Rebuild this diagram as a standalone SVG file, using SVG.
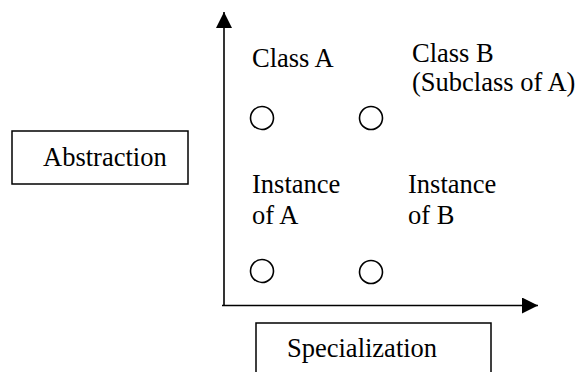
<svg xmlns="http://www.w3.org/2000/svg" width="581" height="372" viewBox="0 0 581 372">
  <style>
    text { font-family: "Liberation Serif", "Times New Roman", serif; font-size: 26.5px; fill: #000; }
    .box { fill: #fff; stroke: #000; stroke-width: 1.5; }
    .axis { fill: none; stroke: #000; stroke-width: 1.6; }
    .dot { fill: #fff; stroke: #000; stroke-width: 1.6; }
  </style>
  <defs>
    <marker id="arrow" viewBox="0 0 16 16" refX="16" refY="8" markerWidth="16" markerHeight="16" markerUnits="userSpaceOnUse" orient="auto">
      <path d="M0,0 L16,8 L0,16 Z" fill="#000"/>
    </marker>
  </defs>
  <rect width="581" height="372" fill="#fff"/>

  <!-- axes -->
  <g id="connectors">
    <path class="axis" d="M224,306 L224,12" marker-end="url(#arrow)"/>
    <path class="axis" d="M222,305.5 L538,305.5" marker-end="url(#arrow)"/>
  </g>

  <!-- axis labels -->
  <g id="abstraction">
    <rect class="box" x="12" y="131" width="176" height="53"/>
    <text x="43" y="166">Abstraction</text>
  </g>
  <g id="specialization">
    <rect class="box" x="256" y="323" width="235" height="60"/>
    <text x="287" y="357">Specialization</text>
  </g>

  <!-- quadrant entries -->
  <g id="class-a">
    <text x="252" y="67">Class A</text>
    <circle class="dot" cx="262" cy="118" r="11.5"/>
  </g>
  <g id="class-b">
    <text x="412" y="62">Class B</text>
    <text x="412" y="91">(Subclass of A)</text>
    <circle class="dot" cx="371" cy="118" r="11.5"/>
  </g>
  <g id="instance-a">
    <text x="252" y="193">Instance</text>
    <text x="252" y="224">of A</text>
    <circle class="dot" cx="262" cy="271" r="11.5"/>
  </g>
  <g id="instance-b">
    <text x="408" y="193">Instance</text>
    <text x="408" y="224">of B</text>
    <circle class="dot" cx="371" cy="272" r="11.5"/>
  </g>
</svg>
